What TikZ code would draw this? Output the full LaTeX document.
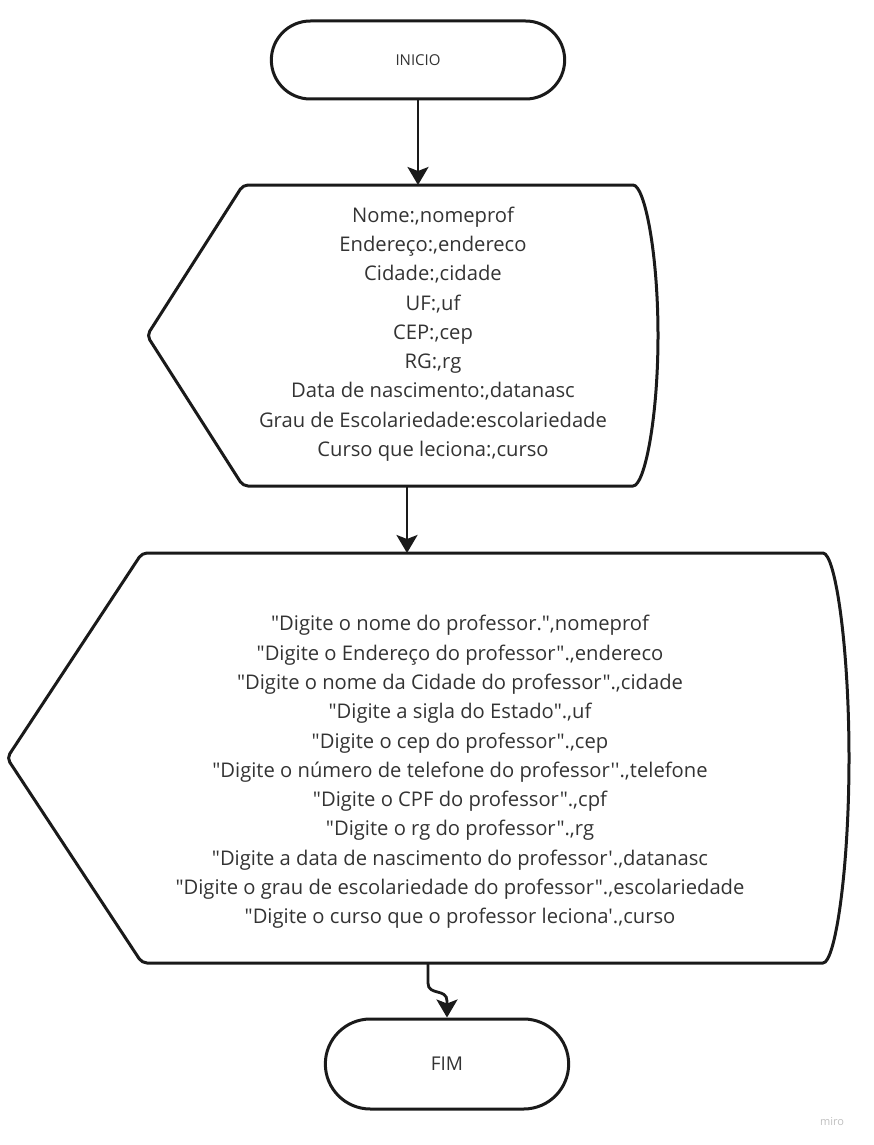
\documentclass[tikz,border=0pt]{standalone}
\usepackage{fontspec}
\setmainfont{Open Sans}[Ligatures=TeXOff]
\usetikzlibrary{arrows.meta,shapes.misc}
\definecolor{linha}{HTML}{1A1A1A}
\definecolor{tinta}{HTML}{333333}

\begin{document}
\begin{tikzpicture}[x=1pt,y=1pt,
  borda/.style={draw=linha,line width=3pt,line join=round,rounded corners=5pt},
  terminal/.style={draw=linha,line width=3pt,rounded rectangle,text=tinta},
  texto/.style={text=tinta,align=center,font=\fontsize{20.2}{29.3}\selectfont},
  seta/.style={draw=linha,line width=2.8pt,-{Stealth[length=18pt,width=21pt,inset=4pt]}}]
\useasboundingbox (0,0) rectangle (873,-1145);

\node[terminal,minimum width=300pt,minimum height=78pt,font=\fontsize{15}{18}\selectfont] (inicio) at (418,-60) {INICIO};

% exibir dados
\draw[borda] (243,-185) -- (628,-185) arc[start angle=90,end angle=-90,x radius=30,y radius=150.5] -- (243,-486) -- (147,-335.5) -- cycle;
\coordinate (dados-topo) at (419,-185);
\coordinate (dados-base) at (407,-486);
\node[texto] (dados) at (433,-334) {Nome:,nomeprof\\
  Endereço:,endereco\\
  Cidade:,cidade\\
  UF:,uf\\
  CEP:,cep\\
  RG:,rg\\
  Data de nascimento:,datanasc\\
  Grau de Escolariedade:escolariedade\\
  Curso que leciona:,curso};

% leitura
\draw[borda] (142,-553) -- (818,-553) arc[start angle=90,end angle=-90,x radius=31,y radius=205] -- (142,-963) -- (7,-758) -- cycle;
\coordinate (leitura-topo) at (407,-553);
\coordinate (leitura-base) at (428,-963);
\node[texto] (leitura) at (460,-772) {"Digite o nome do professor.",nomeprof\\
  "Digite o Endereço do professor".,endereco\\
  "Digite o nome da Cidade do professor".,cidade\\
  "Digite a sigla do Estado".,uf\\
  "Digite o cep do professor".,cep\\
  "Digite o número de telefone do professor''.,telefone\\
  "Digite o CPF do professor".,cpf\\
  "Digite o rg do professor".,rg\\
  "Digite a data de nascimento do professor'.,datanasc\\
  "Digite o grau de escolariedade do professor".,escolariedade\\
  "Digite o curso que o professor leciona'.,curso};

\node[terminal,minimum width=250pt,minimum height=90pt,font=\fontsize{19}{22}\selectfont] (fim) at (447,-1064) {FIM};

\node[text=black!25,font=\fontsize{11}{13}\selectfont] (miro) at (832,-1122) {miro};

\draw[seta] (inicio.south) -- (inicio.south |- dados-topo);
\draw[seta] (dados-base) -- (leitura-topo);
\draw[seta] (leitura-base) -- (428,-983) .. controls (428,-996) and (447,-988) .. (447,-1001) -- (fim.north);
\end{tikzpicture}
\end{document}
